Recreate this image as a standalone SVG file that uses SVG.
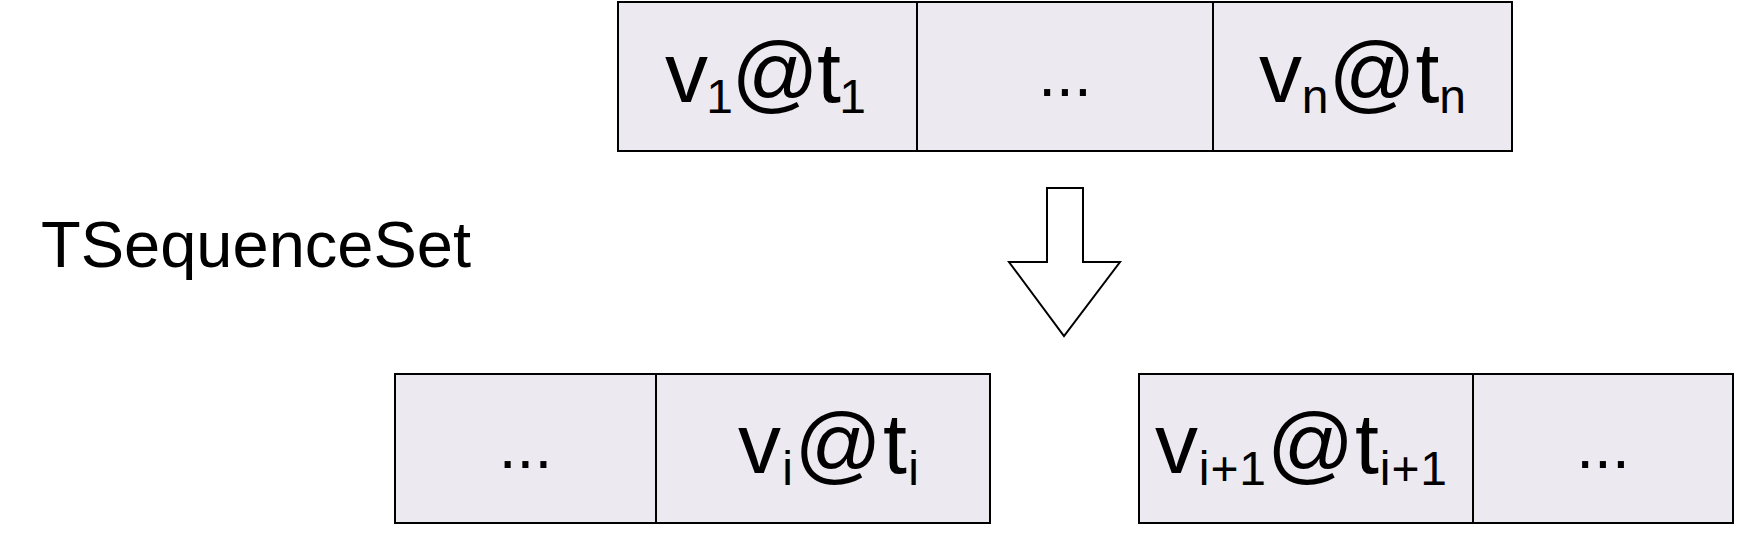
<svg xmlns="http://www.w3.org/2000/svg" width="1742" height="533" viewBox="0 0 1742 533">
<style>
.cell{fill:#ECE9F1;stroke:#000;stroke-width:2}
.div{stroke:#000;stroke-width:2}
.lbl{font-family:"Liberation Sans",Arial,sans-serif;font-size:86px;fill:#000}
.sub{font-size:48px}
.dots{font-family:"Liberation Sans",Arial,sans-serif;font-size:64px;fill:#000;text-anchor:middle}
.title{font-family:"Liberation Sans",Arial,sans-serif;font-size:65px;fill:#000}
.arrow{fill:#fff;stroke:#000;stroke-width:2;stroke-linejoin:miter}
</style>
<rect width="1742" height="533" fill="#fff"/>
<g id="title">
<text class="title" x="41" y="267">TSequenceSet</text>
</g>
<g id="top-sequence">
<rect class="cell" x="618" y="2" width="894" height="149"/>
<line class="div" x1="917" y1="2" x2="917" y2="151"/>
<line class="div" x1="1213" y1="2" x2="1213" y2="151"/>
<text class="lbl" x="665" y="102" textLength="201" lengthAdjust="spacing">v<tspan class="sub" dy="11">1</tspan><tspan dy="-11">@t</tspan><tspan class="sub" dy="11">1</tspan></text>
<text class="dots" x="1065" y="96">...</text>
<text class="lbl" x="1259" y="102" textLength="207" lengthAdjust="spacing">v<tspan class="sub" dy="11">n</tspan><tspan dy="-11">@t</tspan><tspan class="sub" dy="11">n</tspan></text>
</g>
<g id="left-sequence">
<rect class="cell" x="395" y="374" width="595" height="149"/>
<line class="div" x1="656" y1="374" x2="656" y2="523"/>
<text class="dots" x="525.5" y="468">...</text>
<text class="lbl" x="738" y="473" textLength="181" lengthAdjust="spacing">v<tspan class="sub" dy="12">i</tspan><tspan dy="-12">@t</tspan><tspan class="sub" dy="12">i</tspan></text>
</g>
<g id="right-sequence">
<rect class="cell" x="1139" y="374" width="594" height="149"/>
<line class="div" x1="1473" y1="374" x2="1473" y2="523"/>
<text class="lbl" x="1155" y="473" textLength="292" lengthAdjust="spacing">v<tspan class="sub" dy="12">i+1</tspan><tspan dy="-12">@t</tspan><tspan class="sub" dy="12">i+1</tspan></text>
<text class="dots" x="1603" y="468">...</text>
</g>
<g id="connectors">
<polygon class="arrow" points="1047,188 1083,188 1083,262 1120,262 1064,336 1009,262 1047,262"/>
</g>
</svg>
